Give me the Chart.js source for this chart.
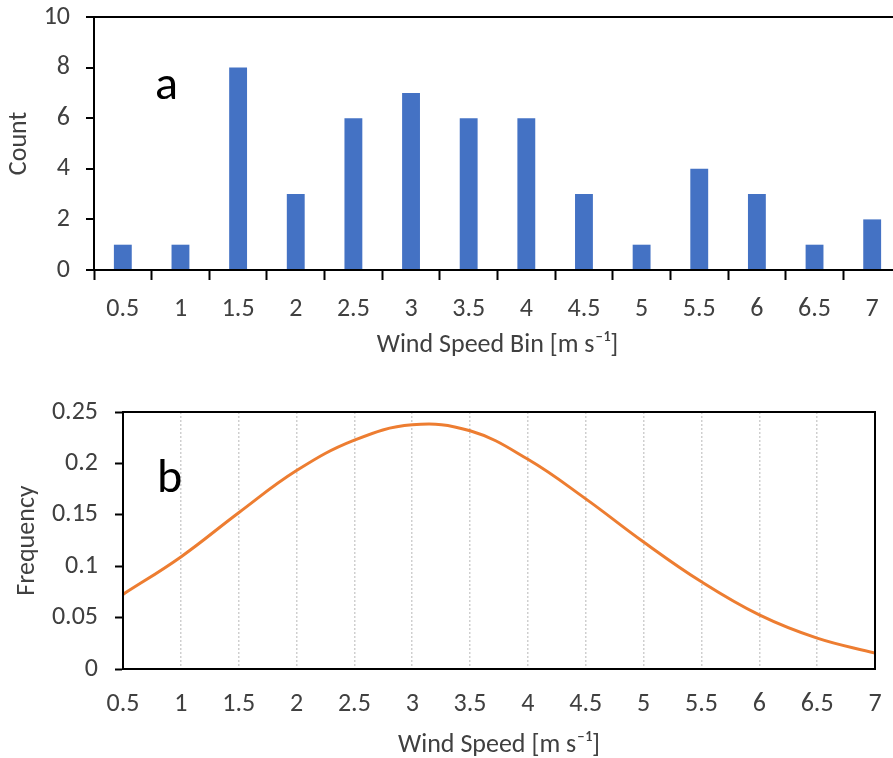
<!DOCTYPE html>
<html>
<head>
<meta charset="utf-8">
<script src="https://cdn.jsdelivr.net/npm/chart.js@4"></script>
<style>
  html, body { margin: 0; padding: 0; background: #fff; overflow: hidden; }
  #wrap-a { position: absolute; left: 0; top: 0; }
  #wrap-b { position: absolute; left: 0; top: 380px; }
</style>
</head>
<body>
<div id="wrap-a"><canvas id="count-chart" width="901" height="370"></canvas></div>
<div id="wrap-b"><canvas id="freq-chart" width="893" height="381"></canvas></div>
<script>
// Histogram bins and counts
const binLabels = ['0.5', '1', '1.5', '2', '2.5', '3', '3.5', '4', '4.5', '5', '5.5', '6', '6.5', '7'];
const binCounts = [1, 1, 8, 3, 6, 7, 6, 6, 3, 1, 4, 3, 1, 2];

// Fitted frequency curve
const windSpeeds = [0.5, 1, 1.5, 2, 2.5, 3, 3.5, 4, 4.5, 5, 5.5, 6, 6.5, 7];
const frequencies = [0.0726, 0.109, 0.152, 0.193, 0.2226, 0.2375, 0.2317, 0.204, 0.1655, 0.1235, 0.0848, 0.0526, 0.030, 0.0155];

const FONT = 'Carlito, Lato, sans-serif';
const TEXT = '#404040';
const SIZE = 26;

Chart.defaults.font.family = FONT;
Chart.defaults.color = TEXT;

const fmt = (v) => String(Number(v.toFixed(2)));

// keep the plot area where the layout padding puts it
function pinScale(scale, size) {
    if (scale.isHorizontal()) scale.height = size;
    else scale.width = size;
    scale.paddingTop = 0;
    scale.paddingBottom = 0;
    scale.paddingLeft = 0;
    scale.paddingRight = 0;
}

// Big panel letter in the plot corner
const panelLetter = {
    id: 'panelLetter',
    afterDraw(chart, args, opts) {
        const {ctx, chartArea} = chart;
        ctx.save();
        ctx.font = '48px ' + FONT;
        ctx.fillStyle = '#000';
        ctx.textBaseline = 'alphabetic';
        ctx.fillText(opts.text, chartArea.left + opts.dx, chartArea.top + opts.dy);
        ctx.restore();
    }
};

// Black frame around the plot area
const plotFrame = {
    id: 'plotFrame',
    afterDraw(chart, args, opts) {
        if (!opts.show) return;
        const {ctx, chartArea} = chart;
        ctx.save();
        ctx.strokeStyle = '#000';
        ctx.lineWidth = 2;
        ctx.setLineDash([]);
        ctx.strokeRect(chartArea.left, chartArea.top, chartArea.right - chartArea.left, chartArea.bottom - chartArea.top);
        ctx.restore();
    }
};

new Chart(document.getElementById('count-chart').getContext('2d'), {
    type: 'bar',
    data: {
        labels: binLabels,
        datasets: [{
            label: 'Count',
            data: binCounts,
            backgroundColor: '#4472C4',
            barPercentage: 0.31,
            categoryPercentage: 1
        }]
    },
    options: {
        responsive: false,
        animation: false,
        layout: { padding: { top: 17, left: 0, right: 0, bottom: 9 } },
        plugins: {
            legend: { display: false },
            tooltip: { enabled: false },
            panelLetter: { text: 'a', dx: 61, dy: 82 },
            plotFrame: { show: false }
        },
        scales: {
            x: {
                grid: {
                    offset: true,
                    drawOnChartArea: false,
                    tickLength: 10,
                    tickColor: '#000',
                    tickWidth: 2
                },
                border: { color: '#000', width: 2 },
                ticks: { font: { size: SIZE }, color: TEXT, padding: 14, maxRotation: 0, autoSkip: false },
                title: {
                    display: true,
                    text: 'Wind Speed Bin [m s⁻¹]',
                    font: { size: SIZE },
                    color: TEXT,
                    padding: { top: 0, bottom: 0 }
                },
                afterFit: (scale) => pinScale(scale, 91)
            },
            y: {
                min: 0,
                max: 10,
                ticks: { stepSize: 2, font: { size: SIZE }, color: TEXT, padding: 16 },
                grid: {
                    color: (ctx) => (ctx.tick && ctx.tick.value === 10 ? '#000' : 'rgba(0,0,0,0)'),
                    lineWidth: 2,
                    tickLength: 8,
                    tickColor: '#000',
                    tickWidth: 2
                },
                border: { color: '#000', width: 2 },
                title: {
                    display: true,
                    text: 'Count',
                    font: { size: SIZE },
                    color: TEXT,
                    padding: { top: 4, bottom: 0 }
                },
                afterFit: (scale) => pinScale(scale, 94)
            }
        }
    },
    plugins: [panelLetter, plotFrame]
});

new Chart(document.getElementById('freq-chart').getContext('2d'), {
    type: 'line',
    data: {
        datasets: [{
            label: 'Frequency',
            data: windSpeeds.map((x, i) => ({ x: x, y: frequencies[i] })),
            borderColor: '#ED7D31',
            borderWidth: 3,
            pointRadius: 0,
            tension: 0.4,
            fill: false
        }]
    },
    options: {
        responsive: false,
        animation: false,
        layout: { padding: { top: 32, left: 0, right: 18, bottom: 0 } },
        plugins: {
            legend: { display: false },
            tooltip: { enabled: false },
            panelLetter: { text: 'b', dx: 34, dy: 80 },
            plotFrame: { show: true }
        },
        scales: {
            x: {
                type: 'linear',
                min: 0.5,
                max: 7,
                ticks: { stepSize: 0.5, font: { size: SIZE }, color: TEXT, padding: 20, maxRotation: 0, autoSkip: false, callback: fmt },
                grid: {
                    color: '#cfcfcf',
                    lineWidth: 1.5,
                    drawTicks: false
                },
                border: { color: '#000', width: 2, dash: [2, 2] },
                title: {
                    display: true,
                    text: 'Wind Speed [m s⁻¹]',
                    font: { size: SIZE },
                    color: TEXT,
                    padding: { top: 0, bottom: 0 }
                },
                afterFit: (scale) => pinScale(scale, 92)
            },
            y: {
                min: 0,
                max: 0.25,
                ticks: { stepSize: 0.05, font: { size: SIZE }, color: TEXT, padding: 17, callback: fmt },
                grid: {
                    drawOnChartArea: false,
                    tickLength: 8,
                    tickColor: '#000',
                    tickWidth: 2
                },
                border: { color: '#000', width: 2 },
                title: {
                    display: true,
                    text: 'Frequency',
                    font: { size: SIZE },
                    color: TEXT,
                    padding: { top: 12, bottom: 0 }
                },
                afterFit: (scale) => pinScale(scale, 123)
            }
        }
    },
    plugins: [panelLetter, plotFrame]
});
</script>
</body>
</html>
